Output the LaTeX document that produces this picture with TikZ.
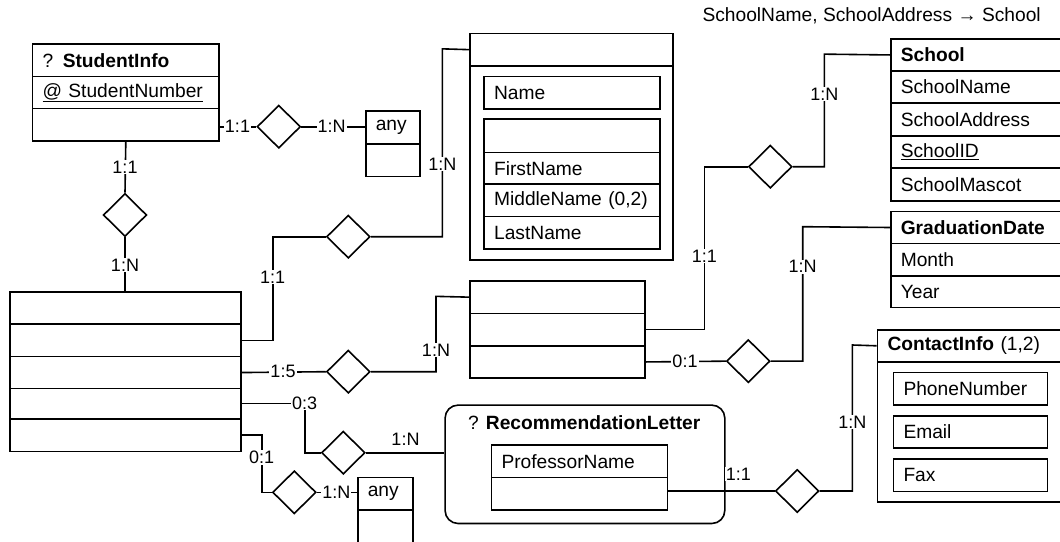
\documentclass[tikz,border=0pt]{standalone}
\usepackage{fontspec}
\setmainfont{Liberation Sans}
\usetikzlibrary{shapes.geometric}
\tikzset{
  cell/.style={draw, anchor=north west, inner xsep=10pt, inner ysep=0pt, align=left},
  rel/.style={draw, diamond, inner sep=0pt, minimum width=43.5pt, minimum height=43pt},
  lbl/.style={fill=white, inner sep=1pt, font=\fontsize{18}{20}\selectfont},
}
\newcommand{\cellnode}[5]{\node[cell, text width=#3pt, minimum height=#4pt] (#1) at (#2) {#5};}
\begin{document}
\begin{tikzpicture}[x=1pt, y=-1pt, line width=1.6pt, font=\fontsize{19.2}{23}\selectfont]
\useasboundingbox (0,0) rectangle (1060,541);
\clip (0,0) rectangle (1060,541);

% top note
\node[anchor=west, inner sep=0pt] (fd) at (701.7,16) {SchoolName, SchoolAddress → School};

% StudentInfo
\cellnode{si1}{31.7,43.3}{166.6}{32.2}{? \textbf{StudentInfo}}
\cellnode{si2}{31.7,75.5}{166.6}{32.3}{\underline{@ StudentNumber}}
\cellnode{si3}{31.7,107.8}{166.6}{32.2}{}

% any (top)
\cellnode{a1}{365,110}{34.3}{33.3}{any}
\cellnode{a2}{365,143.3}{34.3}{32.4}{}

% Name box
\cellnode{nm0}{469.3,32.7}{183}{32.3}{}
\cellnode{nmb}{469.3,65}{183}{194.3}{}
\cellnode{nmn}{483.3,75.7}{155.7}{32.6}{Name}
\cellnode{ng0}{483.3,118.3}{155.7}{33.4}{}
\cellnode{ng1}{483.3,151.7}{155.7}{31.6}{FirstName}
\cellnode{ng2}{483.3,183.3}{155.7}{32.4}{MiddleName (0,2)}
\cellnode{ng3}{483.3,215.7}{155.7}{32.6}{LastName}

% middle box
\cellnode{m1}{469,280}{155.3}{32.7}{}
\cellnode{m2}{469,312.7}{155.3}{32.3}{}
\cellnode{m3}{469,345}{155.3}{32.3}{}

% big left box
\cellnode{b1}{9.3,291}{210.7}{32.3}{}
\cellnode{b2}{9.3,323.3}{210.7}{32.5}{}
\cellnode{b3}{9.3,355.8}{210.7}{31.9}{}
\cellnode{b4}{9.3,387.7}{210.7}{30.3}{}
\cellnode{b5}{9.3,418}{210.7}{32.7}{}

% School
\cellnode{s0}{890,38.3}{180}{31.7}{\textbf{School}}
\cellnode{s1}{890,70}{180}{32.3}{SchoolName}
\cellnode{s2}{890,102.3}{180}{32.7}{SchoolAddress}
\cellnode{s3}{890,135}{180}{32.3}{\underline{SchoolID}}
\cellnode{s4}{890,167.3}{180}{32.7}{SchoolMascot}

% GraduationDate
\cellnode{g0}{890,210.7}{180}{32}{\textbf{GraduationDate}}
\cellnode{g1}{890,242.7}{180}{32.3}{Month}
\cellnode{g2}{890,275}{180}{31.7}{Year}

% ContactInfo
\cellnode{c0}{876.7,329}{200}{32}{\textbf{ContactInfo} (1,2)}
\cellnode{cb}{876.7,361}{200}{140}{}
\cellnode{cp}{892.7,371.7}{134}{32.6}{PhoneNumber}
\cellnode{ce}{892.7,415}{134}{32.3}{Email}
\cellnode{cf}{892.7,458.3}{134}{32.4}{Fax}

% RecommendationLetter
\node[draw, rounded corners=13pt, minimum width=279.7pt, minimum height=118.4pt, anchor=north west, inner sep=0pt] (rl) at (444.3,404.3) {};
\node[anchor=west, inner sep=0pt] (rlt) at (467.3,422.3) {? \textbf{RecommendationLetter}};
\cellnode{p1}{490.7,444}{156}{32.7}{ProfessorName}
\cellnode{p2}{490.7,476.7}{156}{32.3}{}

% any (bottom)
\cellnode{q1}{357,476.7}{35}{32.6}{any}
\cellnode{q2}{357,509.3}{35}{32.5}{}

% relationships
\node[rel] (d1) at (278.8,126.7) {};
\node[rel] (d2) at (125,215) {};
\node[rel] (d3) at (348.3,236.7) {};
\node[rel] (d4) at (348.3,371.7) {};
\node[rel] (d5) at (770.3,166.7) {};
\node[rel] (d6) at (748.3,361.15) {};
\node[rel] (d7) at (343.3,452.7) {};
\node[rel] (d8) at (294.3,492.3) {};
\node[rel] (d9) at (797.2,491) {};

% connectors
\draw (d1.west -| si3.east) -- (d1.west);
\draw (d1.east) -- (d1.east -| a1.west);

\draw (si3.south) -- (d2.north);
\draw (d2.south) -- (d2.south |- b1.north);

\coordinate (k3) at (272.7,236.7);
\coordinate (k3b) at (442.3,48.85);
\draw (b2.east) -| (k3) -- (d3.west);
\draw (d3.east) -| (k3b) -- (nm0.west);

\coordinate (k4) at (436,296.35);
\draw (b3.east) -- (d4.west);
\draw (d4.east) -| (k4) -- (m1.west);

\coordinate (k5) at (704.3,166.7);
\coordinate (k5b) at (824.3,54.15);
\draw (m2.east) -| (k5) -- (d5.west);
\draw (d5.east) -| (k5b) -- (s0.west);

\coordinate (k6) at (802.7,226.7);
\draw (m3.east) -- (d6.west);
\draw (d6.east) -| (k6) -- (g0.west);

\coordinate (k7) at (304.7,452.7);
\draw (b4.east) -| (k7) -- (d7.west);
\draw (d7.east) -- (d7.east -| rl.west);

\coordinate (k8) at (261.7,492.3);
\draw (b5.east) -| (k8) -- (d8.west);
\draw (d8.east) -- (d8.east -| q1.west);

\coordinate (k9) at (852.3,345);
\draw (d9.west -| p2.east) -- (d9.west);
\draw (d9.east) -| (k9) -- (c0.west);

% cardinality labels
\node[lbl] (l1) at (237.5,126.7) {1:1};
\node[lbl] (l2) at (331.7,126.7) {1:N};
\node[lbl] (l3) at (125,167) {1:1};
\node[lbl] (l4) at (125,265) {1:N};
\node[lbl] (l5) at (272.7,277) {1:1};
\node[lbl] (l6) at (442.3,164) {1:N};
\node[lbl] (l7) at (283,371.7) {1:5};
\node[lbl] (l8) at (436,350) {1:N};
\node[lbl] (l9) at (704.3,256) {1:1};
\node[lbl] (l10) at (824.3,94) {1:N};
\node[lbl] (l11) at (685,361.15) {0:1};
\node[lbl] (l12) at (802.7,266.7) {1:N};
\node[lbl] (l13) at (304.7,402.9) {0:3};
\node[lbl] (l14) at (405.5,439.3) {1:N};
\node[lbl] (l15) at (261.7,457.3) {0:1};
\node[lbl] (l16) at (336.3,492.3) {1:N};
\node[lbl] (l17) at (738.3,474) {1:1};
\node[lbl] (l18) at (852.3,422.3) {1:N};
\end{tikzpicture}
\end{document}
